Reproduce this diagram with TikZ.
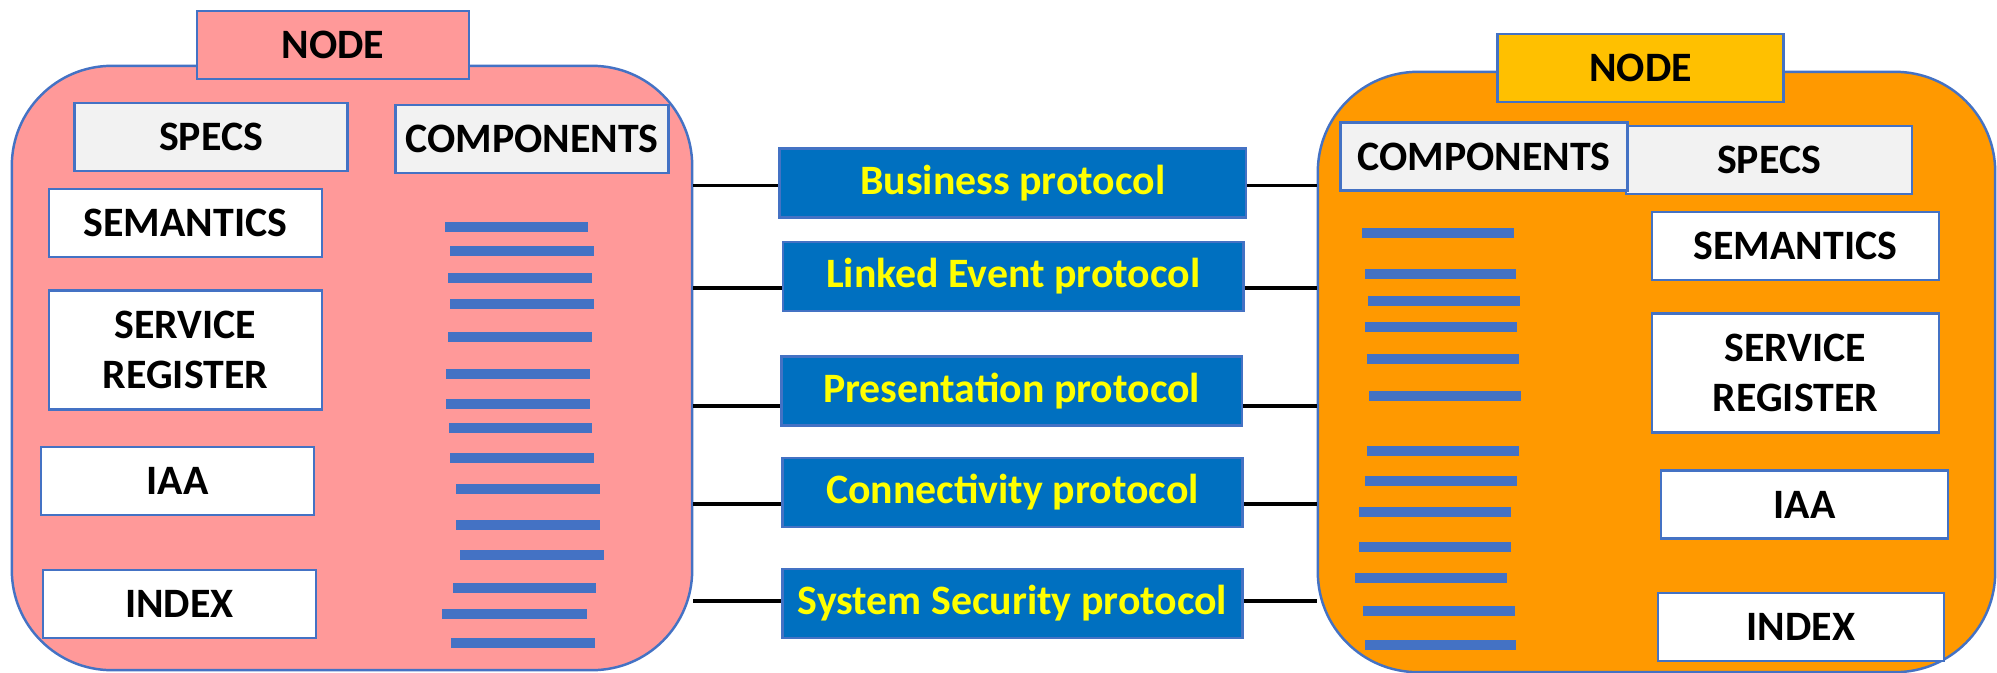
\documentclass[tikz,border=0pt]{standalone}
\usepackage{fontspec}
\setmainfont{Carlito}
\definecolor{nodepink}{HTML}{FF9999}
\definecolor{nodeorange}{HTML}{FF9900}
\definecolor{tabyellow}{HTML}{FFC000}
\definecolor{specgray}{HTML}{F2F2F2}
\definecolor{edgeblue}{HTML}{4472C4}
\definecolor{protblue}{HTML}{0070C0}
\definecolor{textyellow}{HTML}{FFFF00}

\begin{document}
\begin{tikzpicture}[x=0.01cm, y=-0.01cm,
		bignode/.style={draw=edgeblue, line width=0.7pt, rounded corners=1cm, inner sep=0pt},
		nodebox/.style={draw=edgeblue, line width=0.7pt, fill=white, inner sep=0pt, align=center,
			minimum height=0.68cm, font=\fontsize{11.9}{14.4}\selectfont\bfseries},
		graybox/.style={nodebox, fill=specgray},
		protbox/.style={nodebox, fill=protblue, text=textyellow, minimum width=4.6cm, minimum height=0.69cm},
		comp/.style={draw=edgeblue, line width=2.9pt},
		link/.style={draw=black, line width=1pt}]
		\useasboundingbox (0,0) rectangle (1997,673);

		% 左のノード
		\node[bignode, fill=nodepink, minimum width=6.80cm, minimum height=6.04cm] (leftnode) at (352,368) {};
		\node[nodebox, fill=nodepink, minimum width=2.72cm] (lefttab) at (333,45) {NODE};
		\node[graybox, minimum width=2.73cm] (lspecs) at (211,137) {SPECS};
		\node[graybox, minimum width=2.73cm] (lcomps) at (532,139) {COMPONENTS};
		\node[nodebox, minimum width=2.73cm] (lsem) at (185.5,223) {SEMANTICS};
		\node[nodebox, minimum width=2.73cm, minimum height=1.19cm] (lreg) at (185.5,350) {SERVICE\\REGISTER};
		\node[nodebox, minimum width=2.73cm] (liaa) at (177.5,481) {IAA};
		\node[nodebox, minimum width=2.73cm] (lindex) at (179.5,604) {INDEX};
		\foreach \xa/\xb/\y in {445/588/227, 450/594/251, 448/592/278, 450/594/304, 448/592/337,
				446/590/374, 446/590/404, 449/592/428, 450/594/458, 456/600/489,
				456/600/525, 460/604/555, 453/596/588, 442/587/614, 451/595/643}
			\draw[comp] (\xa,\y) -- (\xb,\y);

		% 右のノード
		\node[bignode, fill=nodeorange, minimum width=6.77cm, minimum height=6.00cm] (rightnode) at (1656.5,372) {};
		\node[nodebox, fill=tabyellow, minimum width=2.86cm] (righttab) at (1640.5,68) {NODE};
		\node[graybox, minimum width=2.86cm] (rspecs) at (1769,160) {SPECS};
		\node[graybox, minimum width=2.87cm] (rcomps) at (1484,156.5) {COMPONENTS};
		\node[nodebox, minimum width=2.87cm] (rsem) at (1795.5,246) {SEMANTICS};
		\node[nodebox, minimum width=2.87cm, minimum height=1.19cm] (rreg) at (1795.5,373) {SERVICE\\REGISTER};
		\node[nodebox, minimum width=2.87cm] (riaa) at (1804.5,504.5) {IAA};
		\node[nodebox, minimum width=2.86cm] (rindex) at (1801,627) {INDEX};
		\foreach \xa/\xb/\y in {1362/1514/233, 1365/1516/274, 1368/1520/301, 1365/1517/327,
				1367/1519/359, 1369/1521/396, 1367/1519/451, 1365/1517/481, 1359/1511/512,
				1359/1511/547, 1355/1507/578, 1363/1515/611, 1365/1516/645}
			\draw[comp] (\xa,\y) -- (\xb,\y);

		% プロトコル
		\node[protbox, minimum width=4.66cm] (bp) at (1012.8,183.2) {Business protocol};
		\node[protbox] (le) at (1013.3,276.4) {Linked Event protocol};
		\node[protbox] (pp) at (1011.6,391.2) {Presentation protocol};
		\node[protbox] (cp) at (1012.5,492.5) {Connectivity protocol};
		\node[protbox] (sp) at (1012.5,603.5) {System Security protocol};

		% ノードとプロトコルを結ぶ線
		\foreach \p/\dy in {bp/-0.22, le/-1.16, pp/-1.46, cp/-1.15, sp/0.25} {
			\coordinate (cl) at ([yshift=\dy mm]\p.west);
			\coordinate (cr) at ([yshift=\dy mm]\p.east);
			\draw[link] (cl -| leftnode.east) -- (cl);
			\draw[link] (cr) -- (cr -| rightnode.west);
		}
\end{tikzpicture}
\end{document}
